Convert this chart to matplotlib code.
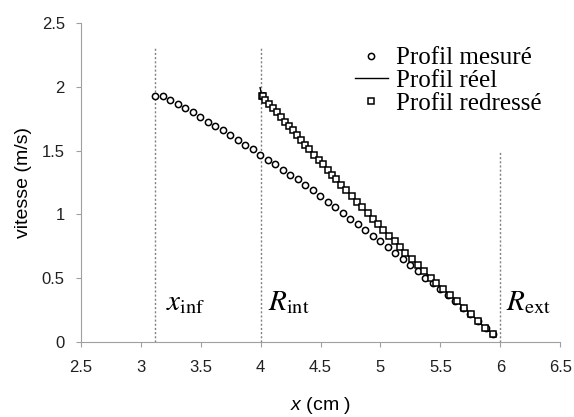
import matplotlib
matplotlib.use("Agg")
import matplotlib.pyplot as plt
import numpy as np

plt.rcParams['font.family'] = 'Liberation Sans'
plt.rcParams['mathtext.fontset'] = 'custom'
plt.rcParams['mathtext.it'] = 'Liberation Sans:italic'
plt.rcParams['mathtext.rm'] = 'Liberation Sans'

# profil mesuré (cercles)
x_mesure = [3.118, 3.181, 3.243, 3.306, 3.369, 3.432, 3.494, 3.557, 3.620, 3.682,
            3.745, 3.808, 3.870, 3.933, 3.996, 4.058, 4.121, 4.184, 4.246, 4.309,
            4.372, 4.435, 4.497, 4.560, 4.623, 4.686, 4.748, 4.810, 4.873, 4.936,
            4.999, 5.062, 5.124, 5.187, 5.250, 5.312, 5.375, 5.438, 5.500, 5.563,
            5.626, 5.689, 5.751, 5.814, 5.877, 5.940]
v_mesure = [1.930, 1.930, 1.900, 1.867, 1.833, 1.800, 1.763, 1.728, 1.690, 1.660,
            1.624, 1.585, 1.547, 1.515, 1.467, 1.425, 1.392, 1.345, 1.310, 1.275,
            1.232, 1.190, 1.145, 1.100, 1.055, 1.010, 0.965, 0.920, 0.876, 0.832,
            0.788, 0.740, 0.694, 0.647, 0.598, 0.556, 0.500, 0.462, 0.410, 0.365,
            0.315, 0.265, 0.215, 0.165, 0.110, 0.060]

# profil redressé (carrés), mêmes vitesses
x_redresse = [4.010, 4.020, 4.038, 4.070, 4.102, 4.133, 4.168, 4.201, 4.237, 4.266,
              4.300, 4.337, 4.373, 4.403, 4.448, 4.488, 4.519, 4.564, 4.597, 4.630,
              4.673, 4.714, 4.759, 4.803, 4.848, 4.892, 4.937, 4.982, 5.025, 5.072,
              5.117, 5.161, 5.206, 5.261, 5.316, 5.361, 5.421, 5.464, 5.523, 5.578,
              5.638, 5.699, 5.757, 5.810, 5.869, 5.938]
v_redresse = v_mesure

# profil réel (ligne)
x_reel = [3.995] + x_redresse
v_reel = [1.995] + v_redresse

x_inf, r_int, r_ext = 3.12, 4.0, 6.0

fig = plt.figure(figsize=(5.74, 4.17), dpi=100)
ax = fig.add_axes([0.141, 0.181, 0.835, 0.763])

dots = (0, (1.5, 1.5))
ax.plot([x_inf, x_inf], [0, 2.315], color='#808080', linestyle=dots, linewidth=1)
ax.plot([r_int, r_int], [0, 2.315], color='#808080', linestyle=dots, linewidth=1)
ax.plot([r_ext, r_ext], [0, 1.5], color='#808080', linestyle=dots, linewidth=1)

ax.plot(x_mesure, v_mesure, 'o', mfc='white', mec='black', ms=4.5, mew=1.1,
        linestyle='None', label='Profil mesuré', zorder=3)
ax.plot(x_reel, v_reel, '-', color='black', linewidth=1, label='Profil réel', zorder=2)
ax.plot(x_redresse, v_redresse, 's', mfc='white', mec='black', ms=4.5, mew=1.1,
        linestyle='None', label='Profil redressé', zorder=4)

ax.set_xlim(2.5, 6.5)
ax.set_ylim(0, 2.5)
ax.set_xticks(np.arange(2.5, 6.51, 0.5))
ax.set_yticks(np.arange(0, 2.51, 0.5))
ax.set_xticklabels(['2.5', '3', '3.5', '4', '4.5', '5', '5.5', '6', '6.5'])
ax.set_yticklabels(['0', '0.5', '1', '1.5', '2', '2.5'])

for s in ['top', 'right']:
    ax.spines[s].set_visible(False)
for s in ['left', 'bottom']:
    ax.spines[s].set_color('#a0a0a0')
ax.tick_params(colors='#a0a0a0', labelcolor='#202020', labelsize=12, length=3.6, direction='out')
ax.tick_params(axis='x', pad=10)
ax.tick_params(axis='y', pad=8)

ax.set_ylabel('vitesse (m/s)', fontsize=14, labelpad=7)
ax.set_xlabel(r'$x$ (cm )', fontsize=14, labelpad=14)

ax.text(x_inf + 0.09, 0.25, r'$x_{\mathrm{inf}}$', fontsize=21, va='baseline',
        math_fontfamily='stix')
ax.text(r_int + 0.06, 0.25, r'$R_{\mathrm{int}}$', fontsize=21, va='baseline',
        math_fontfamily='stix')
ax.text(r_ext + 0.05, 0.25, r'$R_{\mathrm{ext}}$', fontsize=21, va='baseline',
        math_fontfamily='stix')

leg = ax.legend(loc='upper left', bbox_to_anchor=(355 / 574, 1 - 47 / 417),
                bbox_transform=fig.transFigure, frameon=False, borderpad=0,
                borderaxespad=0, prop={'family': 'Liberation Serif', 'size': 18},
                handlelength=1.3, handletextpad=0.36, labelspacing=0.0)

fig.savefig('out.png', dpi=100)
